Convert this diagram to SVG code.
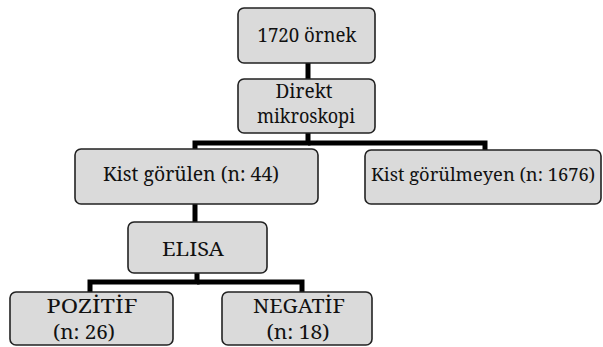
<svg xmlns="http://www.w3.org/2000/svg" width="603" height="347" viewBox="0 0 603 347">
<style>
.box{fill:#dadada;stroke:#222;stroke-width:1.6}
.t{font-family:'Noto Serif','DejaVu Serif',serif;font-size:19.5px;fill:#111;text-anchor:middle}
.c{fill:none;stroke:#000;stroke-width:5}
</style>
<rect width="603" height="347" fill="#fff"/>
<g id="connectors">
<line class="c" x1="308" y1="63" x2="308" y2="79"/>
<polyline class="c" points="308,133 308,143 195,143 195,149"/>
<polyline class="c" points="308,143 485,143 485,150"/>
<line class="c" x1="195" y1="204" x2="195" y2="222"/>
<polyline class="c" points="197,273 197,282 90,282 90,292"/>
<polyline class="c" points="197,282 302,282 302,292"/>
</g>
<g id="n1"><rect class="box" x="238" y="8" width="137" height="55" rx="6"/><text class="t" x="307" y="42" textLength="99" lengthAdjust="spacingAndGlyphs">1720 örnek</text></g>
<g id="n2"><rect class="box" x="238" y="79" width="137" height="54" rx="6"/><text class="t" x="304" y="98" textLength="57" lengthAdjust="spacingAndGlyphs">Direkt</text><text class="t" x="306" y="123" textLength="98" lengthAdjust="spacingAndGlyphs">mikroskopi</text></g>
<g id="n3"><rect class="box" x="75" y="149" width="243" height="55" rx="6"/><text class="t" x="191" y="181" textLength="176" lengthAdjust="spacingAndGlyphs">Kist görülen (n: 44)</text></g>
<g id="n4"><rect class="box" x="365" y="150" width="236" height="54" rx="6"/><text class="t" x="483" y="181" style="font-size:18px" textLength="224" lengthAdjust="spacingAndGlyphs">Kist görülmeyen (n: 1676)</text></g>
<g id="n5"><rect class="box" x="128" y="222" width="139" height="51" rx="6"/><text class="t" x="193" y="256" textLength="62" lengthAdjust="spacingAndGlyphs">ELISA</text></g>
<g id="n6"><rect class="box" x="10" y="292" width="163" height="53" rx="6"/><text class="t" x="92" y="313" textLength="91" lengthAdjust="spacingAndGlyphs">POZİTİF</text><text class="t" x="84" y="339" textLength="62" lengthAdjust="spacingAndGlyphs">(n: 26)</text></g>
<g id="n7"><rect class="box" x="222" y="292" width="150" height="53" rx="6"/><text class="t" x="299" y="313" textLength="92" lengthAdjust="spacingAndGlyphs">NEGATİF</text><text class="t" x="298" y="339" textLength="63" lengthAdjust="spacingAndGlyphs">(n: 18)</text></g>
</svg>
